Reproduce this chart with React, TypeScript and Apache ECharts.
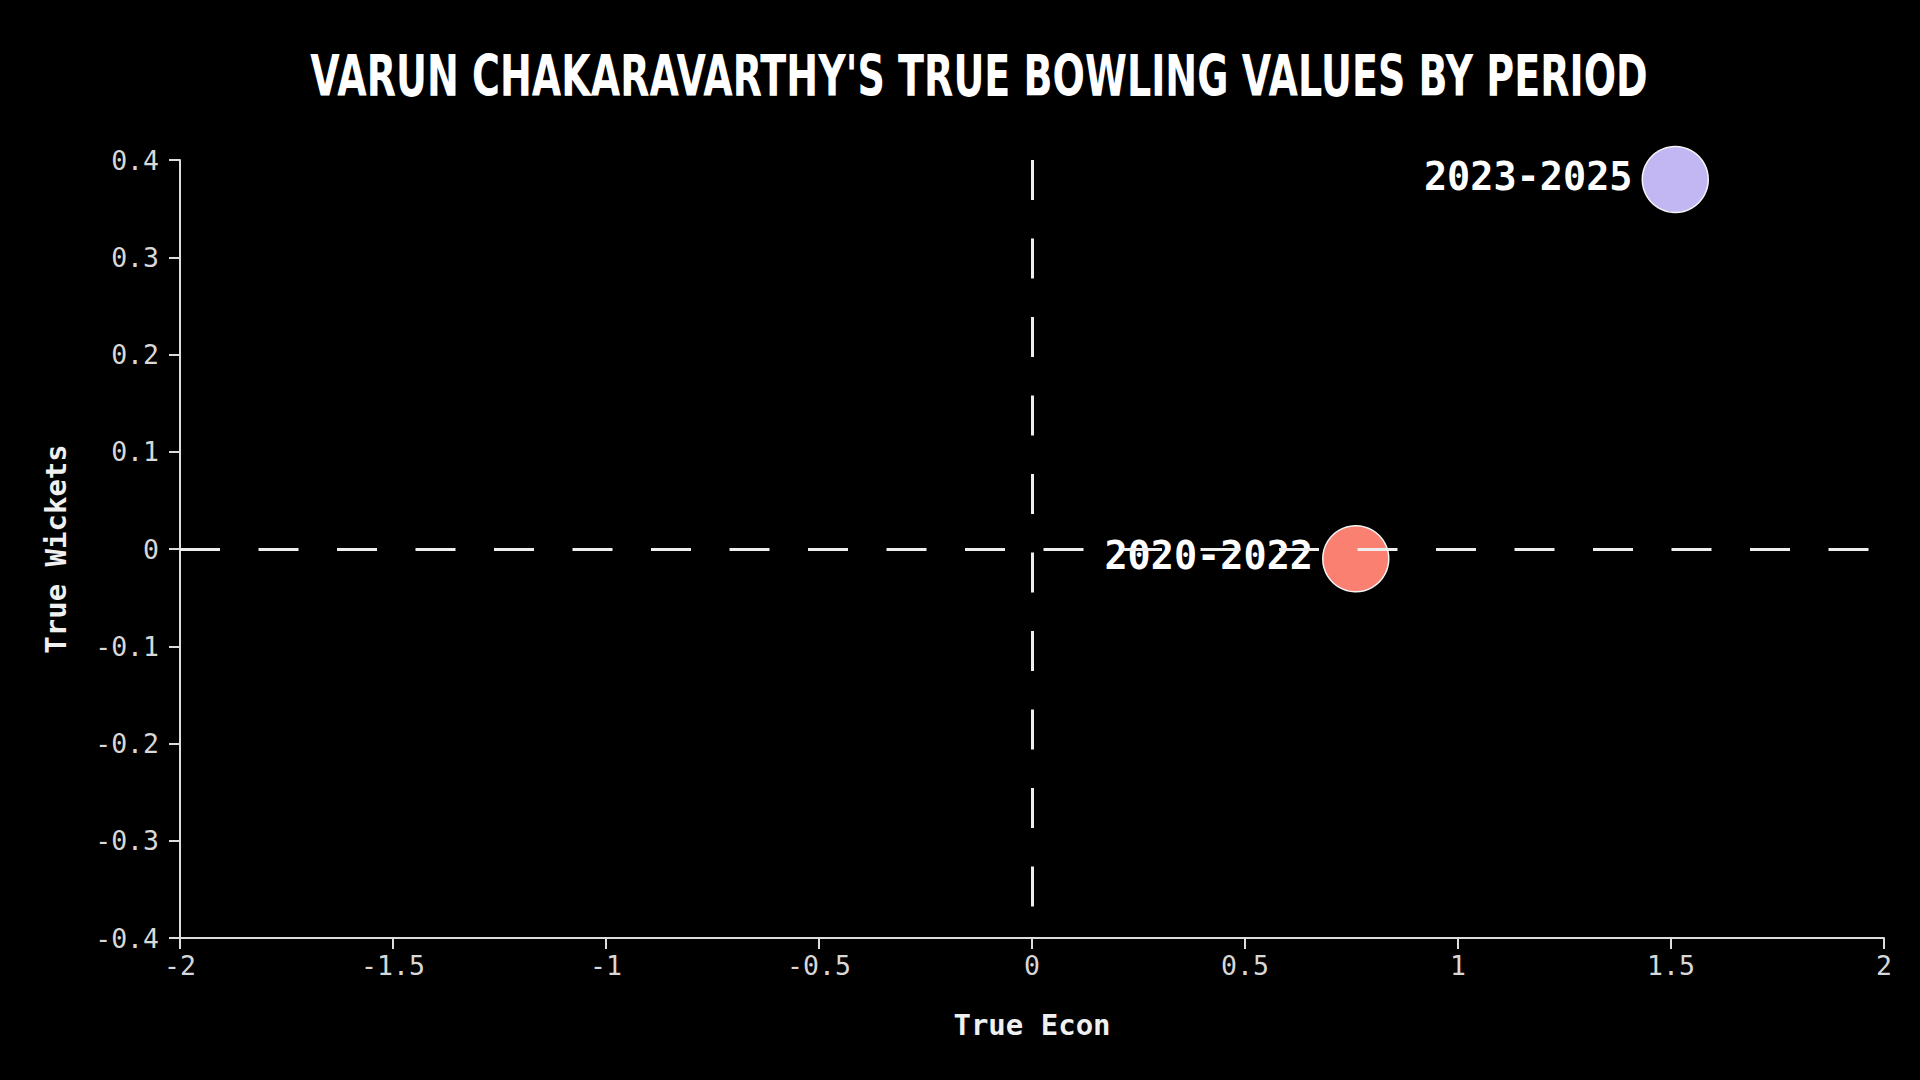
import React, { useEffect, useRef } from "react";
import * as echarts from "echarts";

const titleText = "VARUN CHAKARAVARTHY'S TRUE BOWLING VALUES BY PERIOD";
const periods = ["2020-2022", "2023-2025"];
const trueEcon = [0.76, 1.51];
const trueWickets = [-0.01, 0.38];
const pointColors = ["#fa8072", "#c3b7f3"];
const xName = "True Econ";
const yName = "True Wickets";

export default function App() {
  const ref = useRef<HTMLDivElement>(null);
  useEffect(() => {
    if (!ref.current) return;
    const chart = echarts.init(ref.current, undefined, { renderer: "svg" });
    const mono = "DejaVu Sans Mono";
    chart.setOption({
      animation: false,
      backgroundColor: "#000000",
      graphic: [
        {
          type: "text",
          x: 979,
          y: 77,
          scaleX: 0.68,
          scaleY: 1,
          style: {
            text: titleText,
            fill: "#ffffff",
            font: "bold 56px 'DejaVu Sans'",
            align: "center",
            verticalAlign: "middle",
          },
        },
      ],
      grid: { left: 180, right: 36, top: 160, bottom: 142, containLabel: false },
      xAxis: {
        type: "value",
        min: -2,
        max: 2,
        interval: 0.5,
        name: xName,
        nameLocation: "middle",
        nameGap: 72,
        nameTextStyle: { color: "#f0f0f0", fontFamily: mono, fontWeight: "bold", fontSize: 29 },
        axisLine: { show: true, onZero: false, lineStyle: { color: "#dddddd", width: 2 } },
        axisTick: { show: true, length: 11, lineStyle: { color: "#dddddd", width: 2 } },
        axisLabel: { color: "#d8d8d8", fontFamily: mono, fontSize: 26.5, margin: 14 },
        splitLine: { show: false },
      },
      yAxis: {
        type: "value",
        min: -0.4,
        max: 0.4,
        interval: 0.1,
        name: yName,
        nameLocation: "middle",
        nameGap: 110,
        nameTextStyle: { color: "#f0f0f0", fontFamily: mono, fontWeight: "bold", fontSize: 29 },
        axisLine: { show: true, onZero: false, lineStyle: { color: "#dddddd", width: 2 } },
        axisTick: { show: true, length: 11, lineStyle: { color: "#dddddd", width: 2 } },
        axisLabel: {
          color: "#d8d8d8",
          fontFamily: mono,
          fontSize: 26.5,
          margin: 21,
          formatter: (v: number) => String(Math.round(v * 10) / 10),
        },
        splitLine: { show: false },
      },
      series: [
        {
          type: "scatter",
          z: 2,
          symbolSize: 66,
          data: periods.map((p, i) => ({
            name: p,
            value: [trueEcon[i], trueWickets[i]],
            itemStyle: { color: pointColors[i], borderColor: "#f4f4f4", borderWidth: 1.5, opacity: 1 },
          })),
          itemStyle: { opacity: 1 },
          label: {
            show: true,
            position: "left",
            distance: 9,
            offset: [0, -3],
            formatter: (p: any) => p.name,
            color: "#ffffff",
            opacity: 1,
            fontFamily: mono,
            fontWeight: "bold",
            fontSize: 38.5,
          },
        },
        {
          type: "scatter",
          z: 5,
          data: [],
          markLine: {
            silent: true,
            symbol: "none",
            label: { show: false },
            lineStyle: { color: "#eeeeee", width: 3, type: [40, 38.5], opacity: 1 },
            data: [
              [{ coord: [-2, 0] }, { coord: [2, 0] }],
              [{ coord: [0, 0.4] }, { coord: [0, -0.4] }],
            ],
          },
        },
      ],
    });
    return () => chart.dispose();
  }, []);
  return (
    <div
      ref={ref}
      style={{ position: "fixed", left: 0, top: 0, width: 1920, height: 1080 }}
    />
  );
}
